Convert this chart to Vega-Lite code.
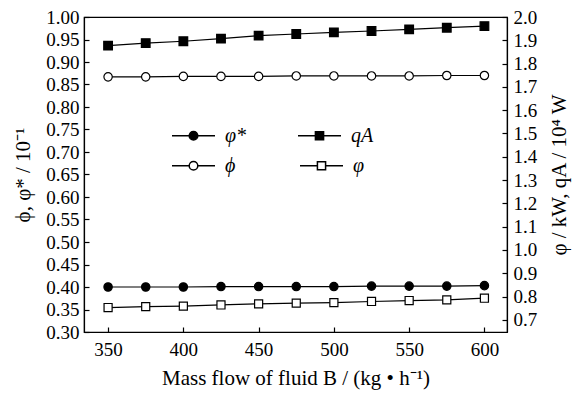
{
  "$schema": "https://vega.github.io/schema/vega-lite/v6.json",
  "autosize": "none",
  "width": 423,
  "height": 315,
  "padding": {"left": 84, "top": 17, "right": 69, "bottom": 66},
  "background": "white",
  "config": {
    "view": {"stroke": "black", "strokeWidth": 1.2},
    "font": "Liberation Serif",
    "axis": {
      "grid": false,
      "domainColor": "black",
      "domainWidth": 1.2,
      "tickColor": "black",
      "tickWidth": 1.2,
      "tickSize": -5,
      "labelColor": "black",
      "labelFont": "Liberation Serif",
      "labelFontSize": 19,
      "titleFont": "Liberation Serif",
      "titleFontSize": 21,
      "titleFontWeight": "normal",
      "titleColor": "black"
    },
    "legend": {
      "labelFont": "Liberation Serif",
      "labelFontSize": 20,
      "labelColor": "black",
      "labelFontStyle": "italic",
      "padding": 0,
      "orient": "none",
      "symbolSize": 1849,
      "labelOffset": 9
    }
  },
  "data": {
    "values": [
      {"x": 350, "series": "φ*", "side": "L", "v": 0.400},
      {"x": 375, "series": "φ*", "side": "L", "v": 0.400},
      {"x": 400, "series": "φ*", "side": "L", "v": 0.400},
      {"x": 425, "series": "φ*", "side": "L", "v": 0.401},
      {"x": 450, "series": "φ*", "side": "L", "v": 0.401},
      {"x": 475, "series": "φ*", "side": "L", "v": 0.401},
      {"x": 500, "series": "φ*", "side": "L", "v": 0.401},
      {"x": 525, "series": "φ*", "side": "L", "v": 0.402},
      {"x": 550, "series": "φ*", "side": "L", "v": 0.402},
      {"x": 575, "series": "φ*", "side": "L", "v": 0.402},
      {"x": 600, "series": "φ*", "side": "L", "v": 0.403},
      {"x": 350, "series": "ϕ", "side": "L", "v": 0.867},
      {"x": 375, "series": "ϕ", "side": "L", "v": 0.867},
      {"x": 400, "series": "ϕ", "side": "L", "v": 0.868},
      {"x": 425, "series": "ϕ", "side": "L", "v": 0.868},
      {"x": 450, "series": "ϕ", "side": "L", "v": 0.868},
      {"x": 475, "series": "ϕ", "side": "L", "v": 0.869},
      {"x": 500, "series": "ϕ", "side": "L", "v": 0.869},
      {"x": 525, "series": "ϕ", "side": "L", "v": 0.869},
      {"x": 550, "series": "ϕ", "side": "L", "v": 0.869},
      {"x": 575, "series": "ϕ", "side": "L", "v": 0.870},
      {"x": 600, "series": "ϕ", "side": "L", "v": 0.870},
      {"x": 350, "series": "qA", "side": "R", "v": 1.877},
      {"x": 375, "series": "qA", "side": "R", "v": 1.888},
      {"x": 400, "series": "qA", "side": "R", "v": 1.896},
      {"x": 425, "series": "qA", "side": "R", "v": 1.907},
      {"x": 450, "series": "qA", "side": "R", "v": 1.920},
      {"x": 475, "series": "qA", "side": "R", "v": 1.927},
      {"x": 500, "series": "qA", "side": "R", "v": 1.934},
      {"x": 525, "series": "qA", "side": "R", "v": 1.940},
      {"x": 550, "series": "qA", "side": "R", "v": 1.947},
      {"x": 575, "series": "qA", "side": "R", "v": 1.954},
      {"x": 600, "series": "qA", "side": "R", "v": 1.961},
      {"x": 350, "series": "φ", "side": "R", "v": 0.753},
      {"x": 375, "series": "φ", "side": "R", "v": 0.757},
      {"x": 400, "series": "φ", "side": "R", "v": 0.759},
      {"x": 425, "series": "φ", "side": "R", "v": 0.764},
      {"x": 450, "series": "φ", "side": "R", "v": 0.769},
      {"x": 475, "series": "φ", "side": "R", "v": 0.772},
      {"x": 500, "series": "φ", "side": "R", "v": 0.774},
      {"x": 525, "series": "φ", "side": "R", "v": 0.779},
      {"x": 550, "series": "φ", "side": "R", "v": 0.783},
      {"x": 575, "series": "φ", "side": "R", "v": 0.786},
      {"x": 600, "series": "φ", "side": "R", "v": 0.793}
    ]
  },
  "encoding": {
    "x": {
      "field": "x",
      "type": "quantitative",
      "scale": {"domain": [334, 615], "nice": false, "zero": false},
      "axis": {
        "values": [350, 400, 450, 500, 550, 600],
        "labelPadding": 13,
        "title": "Mass flow of fluid B / (kg • h⁻¹)",
        "titlePadding": 8
      }
    }
  },
  "layer": [
    {
      "transform": [{"filter": "datum.side == 'L'"}],
      "encoding": {
        "y": {
          "field": "v",
          "type": "quantitative",
          "scale": {"domain": [0.30, 1.00], "nice": false, "zero": false},
          "axis": {
            "orient": "left",
            "values": [0.30, 0.35, 0.40, 0.45, 0.50, 0.55, 0.60, 0.65, 0.70, 0.75, 0.80, 0.85, 0.90, 0.95, 1.00],
            "format": ".2f",
            "labelPadding": 10,
            "title": "ϕ, φ* / 10⁻¹",
            "titlePadding": 12
          }
        }
      },
      "layer": [
        {
          "mark": {"type": "line", "color": "black", "strokeWidth": 1.2},
          "encoding": {"detail": {"field": "series"}}
        },
        {
          "transform": [{"filter": "datum.series == 'φ*'"}],
          "mark": {"type": "point", "shape": "circle", "filled": true, "fill": "black", "stroke": "black", "strokeWidth": 1.2, "size": 70, "opacity": 1}
        },
        {
          "transform": [{"filter": "datum.series == 'ϕ'"}],
          "mark": {"type": "point", "shape": "circle", "filled": true, "fill": "white", "stroke": "black", "strokeWidth": 1.2, "size": 70, "opacity": 1}
        }
      ]
    },
    {
      "transform": [{"filter": "datum.side == 'R'"}],
      "encoding": {
        "y": {
          "field": "v",
          "type": "quantitative",
          "scale": {"domain": [0.648, 2.0], "nice": false, "zero": false},
          "axis": {
            "orient": "right",
            "values": [0.7, 0.8, 0.9, 1.0, 1.1, 1.2, 1.3, 1.4, 1.5, 1.6, 1.7, 1.8, 1.9, 2.0],
            "format": ".1f",
            "labelPadding": 11,
            "title": "φ / kW, qA / 10⁴ W",
            "titleAngle": 270,
            "titleBaseline": "top",
            "titlePadding": 12
          }
        }
      },
      "layer": [
        {
          "mark": {"type": "line", "color": "black", "strokeWidth": 1.2},
          "encoding": {"detail": {"field": "series"}}
        },
        {
          "transform": [{"filter": "datum.series == 'qA'"}],
          "mark": {"type": "point", "shape": "square", "filled": true, "fill": "black", "stroke": "black", "strokeWidth": 1.2, "size": 75, "opacity": 1}
        },
        {
          "transform": [{"filter": "datum.series == 'φ'"}],
          "mark": {"type": "point", "shape": "square", "filled": true, "fill": "white", "stroke": "black", "strokeWidth": 1.2, "size": 65, "opacity": 1}
        }
      ]
    },
    {
      "transform": [{"filter": "datum.series == 'φ*' || datum.series == 'qA'"}],
      "mark": {"type": "point", "opacity": 0, "filled": true, "fill": "black", "stroke": "black", "strokeWidth": 1.2},
      "encoding": {
        "shape": {
          "field": "series",
          "type": "nominal",
          "scale": {
            "domain": ["φ*", "qA"],
            "range": [
              "M-1,0H-0.2M0.2,0H1M0.2,0A0.2,0.2,0,1,1,-0.2,0A0.2,0.2,0,1,1,0.2,0Z",
              "M-1,0H-0.19M0.19,0H1M-0.19,-0.19H0.19V0.19H-0.19Z"
            ]
          },
          "legend": {
            "title": null,
            "orient": "none",
            "direction": "horizontal",
            "columns": 2,
            "legendX": 87,
            "legendY": 96,
            "columnPadding": 48,
            "encode": {
              "symbols": {
                "update": {
                  "fill": {"value": "black"},
                  "stroke": {"value": "black"},
                  "strokeWidth": {"value": 1.2},
                  "opacity": {"value": 1}
                }
              }
            }
          }
        }
      }
    },
    {
      "transform": [{"filter": "datum.series == 'ϕ' || datum.series == 'φ'"}],
      "mark": {"type": "point", "opacity": 0, "filled": true, "fill": "white", "stroke": "black", "strokeWidth": 1.2},
      "encoding": {
        "shape": {
          "field": "series",
          "type": "nominal",
          "scale": {
            "domain": ["ϕ", "φ"],
            "range": [
              "M-1,0H-0.2M0.2,0H1M0.2,0A0.2,0.2,0,1,1,-0.2,0A0.2,0.2,0,1,1,0.2,0Z",
              "M-1,0H-0.19M0.19,0H1M-0.19,-0.19H0.19V0.19H-0.19Z"
            ]
          },
          "legend": {
            "title": null,
            "orient": "none",
            "direction": "horizontal",
            "columns": 2,
            "legendX": 87,
            "legendY": 126,
            "columnPadding": 61,
            "encode": {
              "symbols": {
                "update": {
                  "fill": {"value": "white"},
                  "stroke": {"value": "black"},
                  "strokeWidth": {"value": 1.2},
                  "opacity": {"value": 1}
                }
              }
            }
          }
        }
      }
    }
  ],
  "resolve": {"scale": {"y": "independent", "shape": "independent"}, "legend": {"shape": "independent"}}
}
